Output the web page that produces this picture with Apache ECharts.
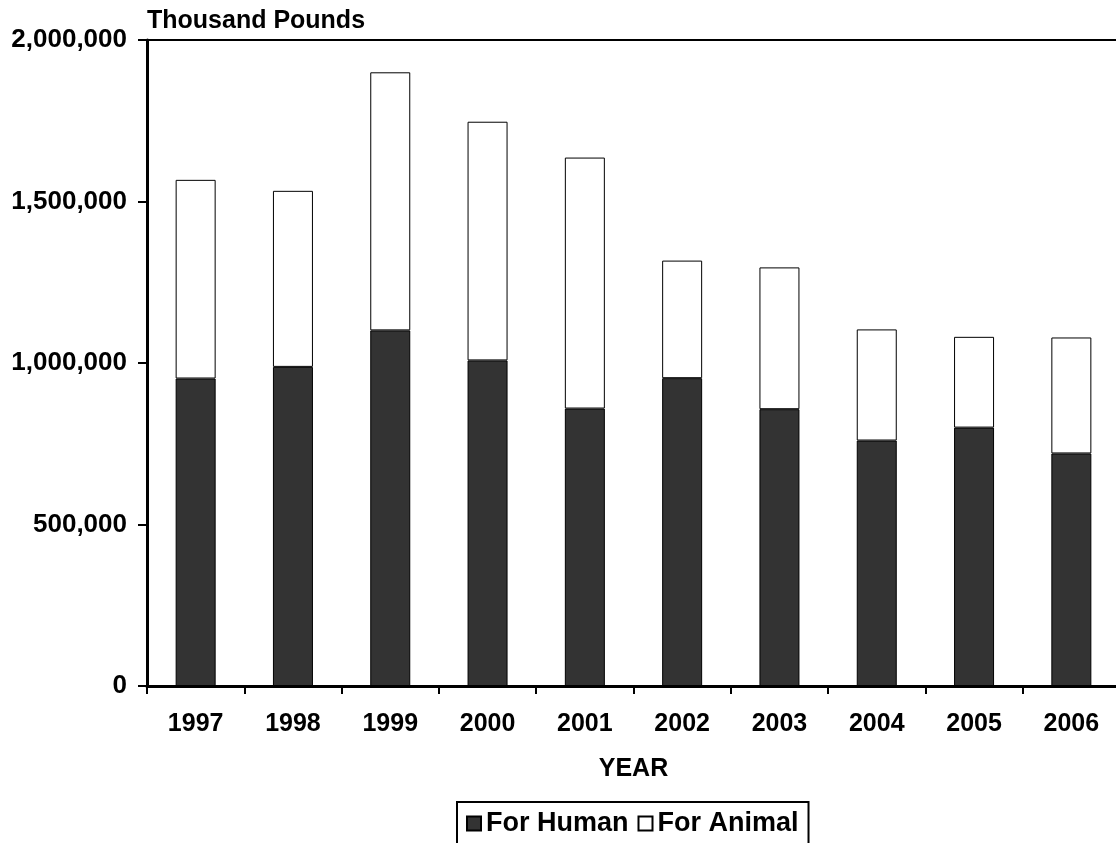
<!DOCTYPE html>
<html>
<head>
<meta charset="utf-8">
<script src="https://cdn.jsdelivr.net/npm/echarts@6/dist/echarts.min.js"></script>
<style>
	html, body { margin: 0; padding: 0; background: #fff; }
	#main { width: 1116px; height: 843px; }
</style>
</head>
<body>
<div id="main"></div>
<script>
	var years = ['1997', '1998', '1999', '2000', '2001', '2002', '2003', '2004', '2005', '2006']
	var forHuman = [952000, 988000, 1101000, 1008000, 859000, 953000, 857000, 760000, 800000, 720000]
	var forAnimal = [615000, 545000, 799000, 739000, 777000, 364000, 439000, 344000, 281000, 359000]
	var yTicks = [0, 500000, 1000000, 1500000, 2000000]

	var font = '"Liberation Sans", Arial, Helvetica, sans-serif'

	function withCommas(val){
		var str = Math.round(val).toString()
		return str.replace(/\B(?=(\d{3})+(?!\d))/g, ',')
	}

	var chart = echarts.init(document.getElementById('main'))

	chart.setOption({
		animation: false,
		backgroundColor: '#fff',
		textStyle: { fontFamily: font, color: '#000' },
		grid: {
			show: true,
			borderColor: '#000',
			borderWidth: 2,
			containLabel: false,
			outerBoundsMode: 'none',
			left: 147,
			right: -4,
			top: 40,
			bottom: 157
		},
		legend: {
			left: 457,
			top: 802,
			orient: 'horizontal',
			borderColor: '#000',
			borderWidth: 2,
			padding: [8, 10, 30, 9],
			itemWidth: 14,
			itemHeight: 14,
			itemGap: 9,
			icon: 'rect',
			textStyle: { fontFamily: font, fontSize: 27, fontWeight: 'bold', color: '#000' },
			data: ['For Human', 'For Animal']
		},
		xAxis: {
			type: 'category',
			data: years,
			name: 'YEAR',
			nameLocation: 'middle',
			nameGap: 71,
			nameTextStyle: { fontFamily: font, fontSize: 25, fontWeight: 'bold', color: '#000' },
			axisLine: { lineStyle: { color: '#000', width: 3 } },
			axisTick: { show: true, length: 8, lineStyle: { color: '#000', width: 2 } },
			axisLabel: { margin: 26, fontFamily: font, fontSize: 25, fontWeight: 'bold', color: '#000' },
			splitLine: { show: false }
		},
		yAxis: {
			type: 'value',
			min: yTicks[0],
			max: yTicks[yTicks.length - 1],
			interval: yTicks[1] - yTicks[0],
			name: 'Thousand Pounds',
			nameLocation: 'end',
			nameGap: 6,
			nameTextStyle: { fontFamily: font, fontSize: 25, fontWeight: 'bold', color: '#000', align: 'left', verticalAlign: 'bottom' },
			axisLine: { show: true, lineStyle: { color: '#000', width: 3 } },
			axisTick: { show: true, length: 9, lineStyle: { color: '#000', width: 2 } },
			axisLabel: { margin: 20, fontFamily: font, fontSize: 26, fontWeight: 'bold', color: '#000', formatter: withCommas },
			splitLine: { show: false }
		},
		series: [
			{
				name: 'For Human',
				type: 'bar',
				stack: 'total',
				barWidth: 40,
				data: forHuman,
				itemStyle: { color: '#333333', borderColor: '#000', borderWidth: 1 }
			},
			{
				name: 'For Animal',
				type: 'bar',
				stack: 'total',
				barWidth: 40,
				data: forAnimal,
				itemStyle: { color: '#ffffff', borderColor: '#000', borderWidth: 1 }
			}
		]
	})
</script>
</body>
</html>
